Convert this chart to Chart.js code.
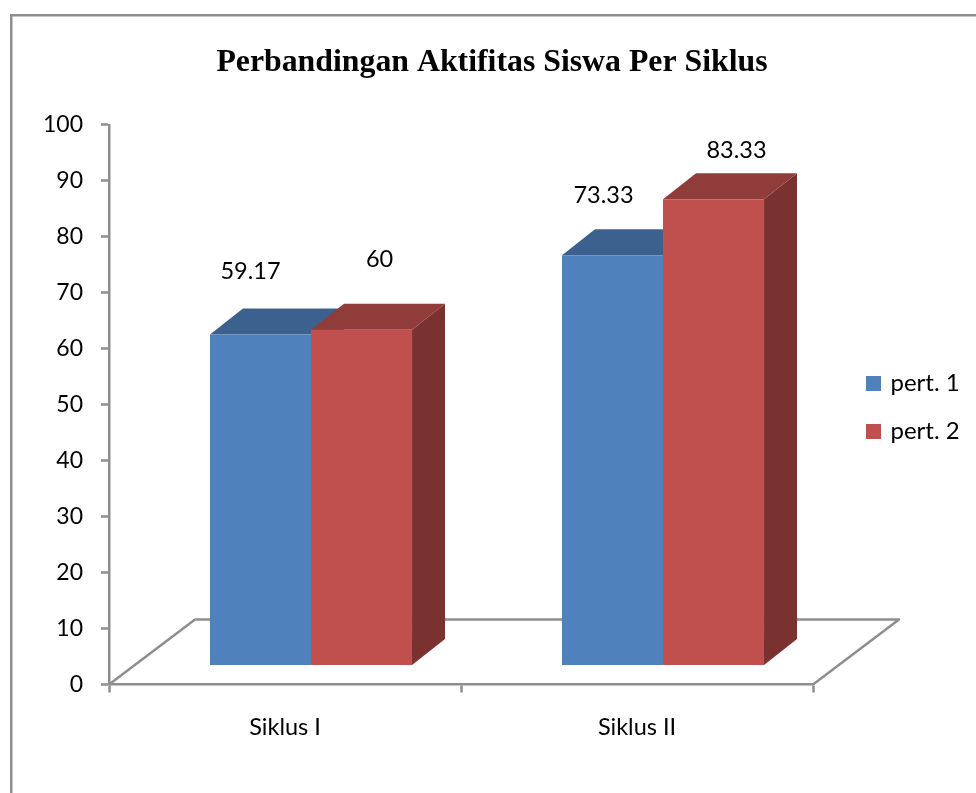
<!DOCTYPE html>
<html>
<head>
<meta charset="utf-8">
<style>html,body{margin:0;padding:0;background:#fff;overflow:hidden}canvas{display:block}</style>
<script src="https://cdn.jsdelivr.net/npm/chart.js@4/dist/chart.umd.min.js"></script>
</head>
<body>
<canvas id="c" width="976" height="793"></canvas>
<script>
const categories = ["Siklus I", "Siklus II"];
const seriesNames = ["pert. 1", "pert. 2"];
const pert1 = [59.17, 73.33];
const pert2 = [60, 83.33];
const valueLabels1 = ["59.17", "73.33"];
const valueLabels2 = ["60", "83.33"];

const GREY = "#8e8e8e";
const FRONT = ["#4f81bd", "#c0504d"];
const TOP = ["#3c618e", "#903c3a"];
const SIDE = ["#2f4d71", "#7a3231"];
const depth = { barX: 33, barY: 26, floorX: 86, floorY: 65, shiftX: 26, shiftY: 19 };
const labelOffsets = [
  [[-10, -63], [-9, -60]],
  [[18, -70], [23, -49]]
];
const labelTexts = [valueLabels1, valueLabels2];
const FONT = "Lato";

const threeD = {
  id: "threeD",
  beforeInit(chart) {
    const lg = chart.legend;
    if (lg) {
      const f = lg.fit;
      lg.fit = function () { f.call(this); this.width = 163; };
    }
  },
  afterLayout(chart) {
    chart.legend.left += 31.5;
    chart.legend.right += 31.5;
    chart.legend.top += 11;
    chart.legend.bottom += 11;
  },
  beforeDraw(chart) {
    const c = chart.ctx;
    c.save();
    c.fillStyle = "#fff";
    c.fillRect(0, 0, chart.width, chart.height);
    c.strokeStyle = GREY;
    c.lineWidth = 2.5;
    c.strokeRect(11.25, 15.25, chart.width + 50, chart.height + 50);
    c.restore();
  },
  beforeDatasetsDraw(chart) {
    const c = chart.ctx, a = chart.chartArea;
    c.save();
    c.strokeStyle = GREY;
    c.lineWidth = 2.5;
    c.lineJoin = "round";
    c.beginPath();
    c.moveTo(a.left, a.bottom);
    c.lineTo(a.left + depth.floorX, a.bottom - depth.floorY);
    c.lineTo(a.right + depth.floorX, a.bottom - depth.floorY);
    c.lineTo(a.right, a.bottom);
    c.stroke();
    c.translate(depth.shiftX, -depth.shiftY);
    chart.data.datasets.forEach((ds, i) => {
      chart.getDatasetMeta(i).data.forEach(b => {
        const p = b.getProps(["x", "y", "base", "width"], true);
        const l = p.x - p.width / 2, r = p.x + p.width / 2;
        c.fillStyle = SIDE[i];
        c.beginPath();
        c.moveTo(r, p.y);
        c.lineTo(r + depth.barX, p.y - depth.barY);
        c.lineTo(r + depth.barX, p.base - depth.barY);
        c.lineTo(r, p.base);
        c.closePath();
        c.fill();
        c.fillStyle = TOP[i];
        c.beginPath();
        c.moveTo(l, p.y);
        c.lineTo(l + depth.barX, p.y - depth.barY);
        c.lineTo(r + depth.barX, p.y - depth.barY);
        c.lineTo(r, p.y);
        c.closePath();
        c.fill();
      });
    });
    c.restore();
  },
  beforeDatasetDraw(chart) {
    chart.ctx.save();
    chart.ctx.translate(depth.shiftX, -depth.shiftY);
  },
  afterDatasetDraw(chart) {
    chart.ctx.restore();
  },
  afterDatasetsDraw(chart) {
    const c = chart.ctx;
    c.save();
    c.font = "23.5px " + FONT;
    c.fillStyle = "#000";
    c.textAlign = "center";
    c.textBaseline = "middle";
    chart.data.datasets.forEach((ds, i) => {
      chart.getDatasetMeta(i).data.forEach((b, j) => {
        const p = b.getProps(["x", "y"], true);
        c.fillText(labelTexts[i][j],
          p.x + depth.shiftX + labelOffsets[i][j][0],
          p.y - depth.shiftY + labelOffsets[i][j][1]);
      });
    });
    c.restore();
  }
};

new Chart(document.getElementById("c"), {
  type: "bar",
  plugins: [threeD],
  data: {
    labels: categories,
    datasets: [
      { label: seriesNames[0], data: pert1, backgroundColor: FRONT[0], borderWidth: 0, clip: false },
      { label: seriesNames[1], data: pert2, backgroundColor: FRONT[1], borderWidth: 0, clip: false }
    ]
  },
  options: {
    responsive: false,
    animation: false,
    layout: { padding: { left: 8, top: 0, right: 0, bottom: 0 } },
    datasets: { bar: { categoryPercentage: 0.574, barPercentage: 1 } },
    scales: {
      x: {
        grid: { drawOnChartArea: false, drawTicks: true, tickLength: 8, tickColor: GREY, tickWidth: 2.5 },
        border: { color: GREY, width: 2.5 },
        ticks: { color: "#000", font: { family: FONT, size: 23.5 }, padding: 21, maxRotation: 0 },
        afterFit(s) { s.height = 108.5; }
      },
      y: {
        min: 0,
        max: 100,
        grid: { drawOnChartArea: false, drawTicks: true, tickLength: 8, tickColor: GREY, tickWidth: 2.5 },
        border: { color: GREY, width: 2.5 },
        ticks: { stepSize: 10, color: "#000", font: { family: FONT, size: 23 }, padding: 18 },
        afterFit(s) { s.width = 101; }
      }
    },
    plugins: {
      tooltip: { enabled: false },
      title: {
        display: true,
        text: "Perbandingan Aktifitas Siswa Per Siklus",
        color: "#000",
        font: { family: "Liberation Serif", size: 31.8, weight: "bold", lineHeight: 1.2 },
        padding: { top: 43.5, bottom: 43.3 }
      },
      legend: {
        display: true,
        position: "right",
        align: "center",
        labels: {
          color: "#000",
          font: { family: FONT, size: 24 },
          boxWidth: 10,
          boxHeight: 10,
          padding: 24,
          generateLabels(chart) {
            return Chart.defaults.plugins.legend.labels.generateLabels(chart).map((it, i) => {
              it.lineWidth = 5;
              it.strokeStyle = FRONT[i];
              return it;
            });
          }
        }
      }
    }
  }
});
</script>
</body>
</html>
